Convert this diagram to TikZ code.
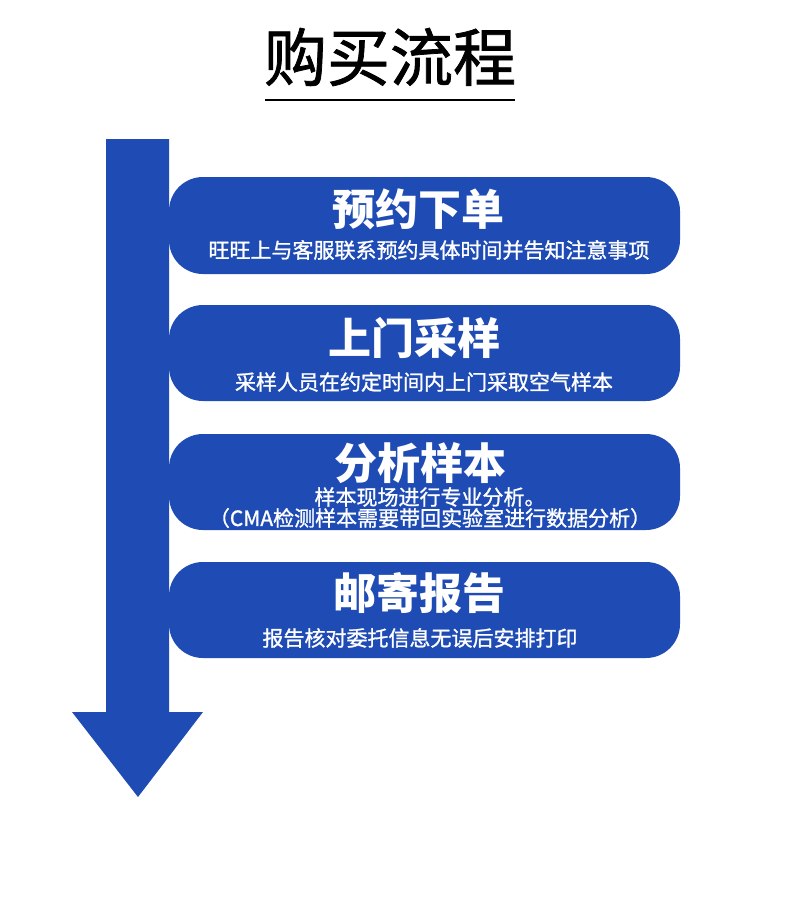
\documentclass[tikz,border=0pt]{standalone}
\usepackage{fontspec}
\newfontfamily\cjk{Noto Sans CJK SC}
\newfontfamily\cjkmed[FakeBold=1.2]{Noto Sans CJK SC}
\definecolor{flowblue}{RGB}{30,75,180}
\tikzset{
  stepbox/.style={fill=flowblue, rounded corners=34pt},
  steptitle/.style={text=white, font=\cjk\bfseries\fontsize{43}{46}\selectfont},
  stepnote/.style={text=white, font=\cjkmed\fontsize{21}{23}\selectfont, align=center}
}
\begin{document}
\begin{tikzpicture}[x=1pt,y=-1pt]
	\useasboundingbox (0,0) rectangle (790,918);
	\node (title) at (390,57) {\cjkmed\fontsize{63}{66}\selectfont 购买流程};
	\draw[line width=1.5pt] (265,100) -- (515,100);
	% arrow
	\fill[flowblue] (106,139) -- (169,139) -- (169,712) -- (203,712) -- (138,797)
		-- (72,712) -- (106,712) -- cycle;
	% steps
	\fill[stepbox] (169,177) rectangle (680,274);
	\node[steptitle] (s1) at (418,209) {预约下单};
	\node[stepnote] (n1) at (429,250) {旺旺上与客服联系预约具体时间并告知注意事项};
	\fill[stepbox] (169,305) rectangle (680,401);
	\node[steptitle] (s2) at (414,338) {上门采样};
	\node[stepnote] (n2) at (424,382) {采样人员在约定时间内上门采取空气样本};
	\fill[stepbox] (169,434) rectangle (680,530);
	\node[steptitle] (s3) at (420,463) {分析样本};
	\node[stepnote] (n3) at (430,497) {样本现场进行专业分析。};
	\node[stepnote] (n3b) at (430,518) {（CMA检测样本需要带回实验室进行数据分析）};
	\fill[stepbox] (169,562) rectangle (680,658);
	\node[steptitle] (s4) at (419,593) {邮寄报告};
	\node[stepnote] (n4) at (420,638) {报告核对委托信息无误后安排打印};
\end{tikzpicture}
\end{document}
